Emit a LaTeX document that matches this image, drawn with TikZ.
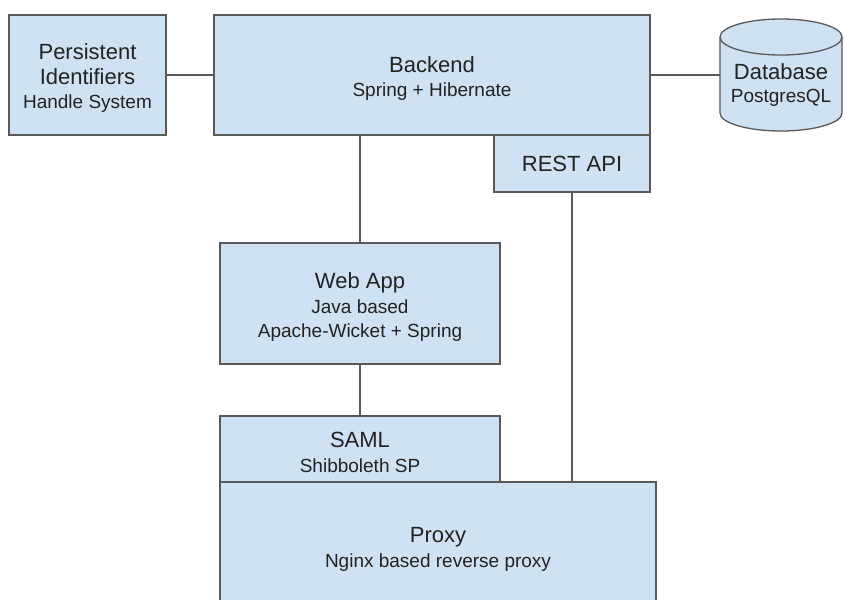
\documentclass[tikz,border=0pt]{standalone}
\usepackage{fontspec}
\setmainfont{Liberation Sans}
\definecolor{boxfill}{HTML}{CFE2F3}
\definecolor{boxline}{HTML}{595959}
\definecolor{txt}{HTML}{222222}
\newcommand{\ttl}{\fontsize{22}{24.5}\selectfont}
\newcommand{\sub}{\fontsize{19}{24.5}\selectfont}
\begin{document}
\begin{tikzpicture}[x=1pt,y=-1pt,
  box/.style={draw=boxline, fill=boxfill, line width=1.3pt, inner sep=0pt},
  lbl/.style={align=center, text=txt, font=\sub, inner sep=0pt, yshift=-3.5pt},
  link/.style={draw=boxline, line width=1.3pt}]
\clip (0,0) rectangle (845,599);
\fill[white] (0,0) rectangle (845,599);
% boxes
\node[box, minimum width=157pt, minimum height=120pt,
  label={[lbl]center:{\ttl Persistent\\\ttl Identifiers\\\sub Handle System}}] (pid) at (87.5,75) {};
\node[box, minimum width=436pt, minimum height=120pt,
  label={[lbl]center:{\ttl Backend\\\sub Spring + Hibernate}}] (backend) at (432,75) {};
\node[box, minimum width=156pt, minimum height=57pt,
  label={[lbl, yshift=3pt]center:{\ttl REST API}}] (rest) at (572,163.5) {};
\node[box, minimum width=280pt, minimum height=121pt,
  label={[lbl]center:{\ttl Web App\\\sub Java based\\\sub Apache-Wicket + Spring}}] (webapp) at (360,303.5) {};
\node[box, minimum width=280pt, minimum height=66pt,
  label={[lbl]center:{\ttl SAML\\\sub Shibboleth SP}}] (saml) at (360,449) {};
\node[box, minimum width=436pt, minimum height=128pt,
  label={[lbl]center:{\ttl Proxy\\\sub Nginx based reverse proxy}}] (proxy) at (438,546) {};
% database cylinder
\draw[draw=boxline, fill=boxfill, line width=1.3pt]
  (720,37) -- (720,113) arc[start angle=180, end angle=0, x radius=61, y radius=18]
  -- (842,37) arc[start angle=0, end angle=-180, x radius=61, y radius=18] -- cycle;
\draw[draw=boxline, line width=1.3pt]
  (720,37) arc[start angle=180, end angle=0, x radius=61, y radius=18];
\node[minimum width=122pt, minimum height=114pt, inner sep=0pt] (db) at (781,75) {};
\node[align=center, text=txt, inner sep=0pt, font=\fontsize{19}{22.5}\selectfont] (dbtext) at (781,85)
  {\fontsize{22}{22.5}\selectfont Database\\PostgresQL};
% connectors
\draw[link] (pid.east) -- (backend.west);
\draw[link] (backend.east) -- (db.west);
\draw[link] (webapp.north) -- (webapp.north |- backend.south);
\draw[link] (saml.north) -- (saml.north |- webapp.south);
\draw[link] (rest.south) -- (rest.south |- proxy.north);
\end{tikzpicture}
\end{document}
